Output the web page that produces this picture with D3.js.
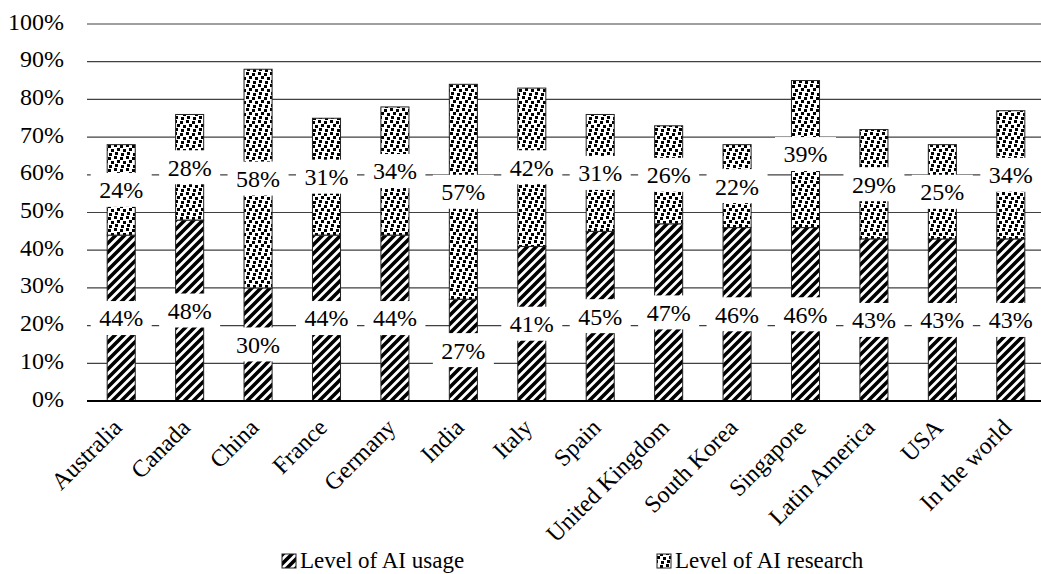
<!DOCTYPE html>
<html>
<head>
<meta charset="utf-8">
<script src="https://cdn.jsdelivr.net/npm/d3@7"></script>
<style>
  body { margin: 0; background: #fff; }
  svg text { font-family: "Liberation Serif", "Times New Roman", "DejaVu Serif", serif; }
</style>
</head>
<body>
<div id="chart"></div>
<script>
// values (percent)
const countries = ["Australia", "Canada", "China", "France", "Germany", "India", "Italy",
  "Spain", "United Kingdom", "South Korea", "Singapore", "Latin America", "USA", "In the world"];
const usage = [44, 48, 30, 44, 44, 27, 41, 45, 47, 46, 46, 43, 43, 43];
const research = [24, 28, 58, 31, 34, 57, 42, 31, 26, 22, 39, 29, 25, 34];
const yTicks = [0, 10, 20, 30, 40, 50, 60, 70, 80, 90, 100];
const seriesNames = ["Level of AI usage", "Level of AI research"];

const serif = "Liberation Serif, Times New Roman, DejaVu Serif, serif";
const fontSize = 24;

let width = 1041,
    height = 574,
    margin = ({ top: 24, bottom: 173, left: 87 });

const svg = d3.select("#chart")
  .append("svg")
  .attr("width", width)
  .attr("height", height)
  .attr("font-family", serif);

svg.append("rect").attr("width", width).attr("height", height).attr("fill", "#fff");

// fill patterns: wide upward diagonal + confetti
const defs = svg.append("defs");
let stripes = defs.append("pattern")
  .attr("id", "stripes")
  .attr("patternUnits", "userSpaceOnUse")
  .attr("width", 9).attr("height", 9);
stripes.append("rect").attr("width", 9).attr("height", 9).attr("fill", "#fff");
stripes.append("path")
  .attr("d", "M-3,3 L3,-3 M0,9 L9,0 M6,12 L12,6")
  .attr("stroke", "#000")
  .attr("stroke-width", 3.6);

let dots = defs.append("pattern")
  .attr("id", "dots")
  .attr("patternUnits", "userSpaceOnUse")
  .attr("width", 12).attr("height", 12);
dots.append("rect").attr("width", 12).attr("height", 12).attr("fill", "#fff");
[[0, 1], [6, 0], [3, 5], [9, 4], [1, 9], [7, 8]].forEach(p => {
  dots.append("rect")
    .attr("x", p[0]).attr("y", p[1])
    .attr("width", 3).attr("height", 3)
    .attr("fill", "#000");
});
const fills = ["url(#stripes)", "url(#dots)"];

let x = d3.scaleBand()
  .domain(countries)
  .range([margin.left, 1045])
  .paddingInner(0.59)
  .paddingOuter(0.295);

let y = d3.scaleLinear()
  .domain([0, 100])
  .range([height - margin.bottom, margin.top]);

// gridlines
svg.append("g")
  .selectAll("line")
  .data(yTicks.filter(d => d > 0))
  .join("line")
  .attr("x1", margin.left).attr("x2", width)
  .attr("y1", d => y(d)).attr("y2", d => y(d))
  .attr("stroke", "#404040")
  .attr("stroke-width", 1.2);

// y tick labels
svg.append("g")
  .selectAll("text")
  .data(yTicks)
  .join("text")
  .attr("x", 64)
  .attr("y", d => y(d))
  .attr("text-anchor", "end")
  .attr("dominant-baseline", "middle")
  .attr("font-family", serif)
  .attr("font-size", fontSize)
  .text(d => d + "%");

let data = countries.map((c, i) => ({ country: c, u: usage[i], r: research[i] }));
let stack = d3.stack().keys(["u", "r"])(data);

// bars
stack.forEach((layer, k) => {
  svg.append("g")
    .selectAll("rect")
    .data(layer)
    .join("rect")
    .attr("x", d => x(d.data.country))
    .attr("width", x.bandwidth())
    .attr("y", d => y(d[1]))
    .attr("height", d => y(d[0]) - y(d[1]))
    .attr("fill", fills[k])
    .attr("stroke", "#222")
    .attr("stroke-width", 1);
});

// x axis line
svg.append("line")
  .attr("x1", margin.left).attr("x2", width)
  .attr("y1", y(0)).attr("y2", y(0))
  .attr("stroke", "#000")
  .attr("stroke-width", 2.2);

// data labels with white boxes
stack.forEach(layer => {
  let g = svg.append("g")
    .selectAll("g")
    .data(layer)
    .join("g")
    .attr("transform", d => `translate(${x(d.data.country) + x.bandwidth() / 2},${y((d[0] + d[1]) / 2)})`);
  g.append("rect")
    .attr("x", -30.5).attr("y", -17)
    .attr("width", 61).attr("height", 34)
    .attr("fill", "#fff");
  g.append("text")
    .attr("text-anchor", "middle")
    .attr("dy", "0.35em")
    .attr("font-family", serif)
    .attr("font-size", fontSize)
    .text(d => (d[1] - d[0]) + "%");
});

// category labels
svg.append("g")
  .selectAll("text")
  .data(countries)
  .join("text")
  .attr("transform", d => `translate(${x(d) + x.bandwidth() / 2 + 2},${y(0) + 28}) rotate(-45)`)
  .attr("text-anchor", "end")
  .attr("font-family", serif)
  .attr("font-size", fontSize)
  .text(d => d);

// legend
let legendX = [282, 657];
seriesNames.forEach((name, i) => {
  svg.append("rect")
    .attr("x", legendX[i]).attr("y", 554)
    .attr("width", 14).attr("height", 14)
    .attr("fill", fills[i])
    .attr("stroke", "#222");
  svg.append("text")
    .attr("x", legendX[i] + 18)
    .attr("y", 568)
    .attr("font-family", serif)
    .attr("font-size", 23)
    .text(name);
});
</script>
</body>
</html>
